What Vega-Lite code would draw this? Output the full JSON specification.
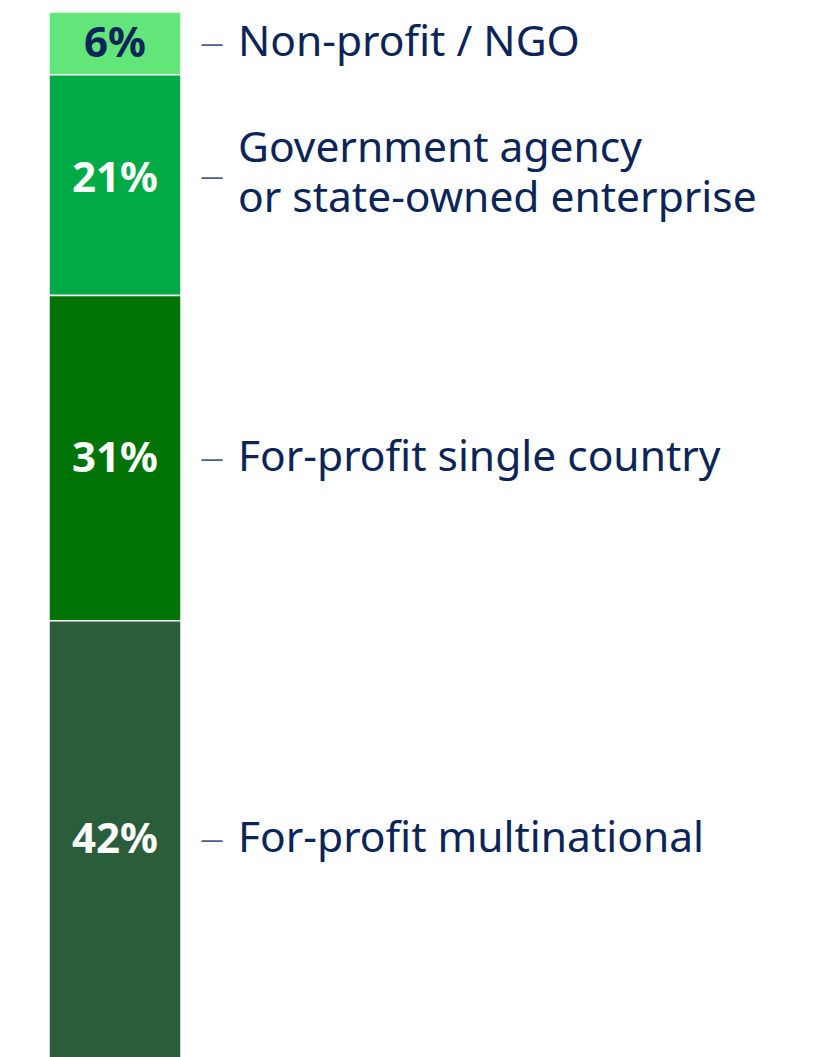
{
  "$schema": "https://vega.github.io/schema/vega-lite/v6.json",
  "width": 230,
  "height": 1046,
  "autosize": "none",
  "padding": {"left": 0, "top": 12, "right": 591, "bottom": 0},
  "background": "white",
  "config": {"view": {"stroke": null}},
  "data": {
    "values": [
      {"bar": "All", "category": "Non-profit / NGO", "label": ["Non-profit / NGO"], "share": 6.0, "pct": "6%", "order": 1},
      {"bar": "All", "category": "Government agency or state-owned enterprise", "label": ["Government agency", "or state-owned enterprise"], "share": 21.1, "pct": "21%", "order": 2},
      {"bar": "All", "category": "For-profit single country", "label": ["For-profit single country"], "share": 31.1, "pct": "31%", "order": 3},
      {"bar": "All", "category": "For-profit multinational", "label": ["For-profit multinational"], "share": 41.8, "pct": "42%", "order": 4}
    ]
  },
  "transform": [
    {"stack": "share", "groupby": ["bar"], "sort": [{"field": "order", "order": "descending"}], "as": ["y0", "y1"]},
    {"calculate": "(datum.y0 + datum.y1) / 2", "as": "ymid"}
  ],
  "encoding": {
    "x": {"field": "bar", "type": "nominal", "axis": null, "scale": {"paddingInner": 0, "paddingOuter": 0.3712}}
  },
  "layer": [
    {
      "mark": {"type": "bar", "stroke": "white", "strokeWidth": 1.5},
      "encoding": {
        "y": {"field": "y0", "type": "quantitative", "axis": null, "scale": {"domain": [0, 100], "nice": false}},
        "y2": {"field": "y1"},
        "color": {
          "field": "category",
          "type": "nominal",
          "legend": null,
          "scale": {
            "domain": ["Non-profit / NGO", "Government agency or state-owned enterprise", "For-profit single country", "For-profit multinational"],
            "range": ["#62e67a", "#00aa44", "#007306", "#2a5e3b"]
          }
        }
      }
    },
    {
      "transform": [{"filter": "datum.order !== 2"}],
      "mark": {"type": "text", "font": "Noto Sans", "fontWeight": "bold", "fontSize": 42, "align": "center", "baseline": "middle", "dy": 1},
      "encoding": {
        "y": {"field": "ymid", "type": "quantitative"},
        "text": {"field": "pct"},
        "color": {
          "condition": {"test": "datum.order === 1", "value": "#0b2559"},
          "value": "white"
        }
      }
    },
    {
      "transform": [{"filter": "datum.order === 2"}],
      "mark": {"type": "text", "font": "Noto Sans", "fontWeight": "bold", "fontSize": 42, "align": "center", "baseline": "middle", "dy": -6, "color": "white"},
      "encoding": {
        "y": {"field": "ymid", "type": "quantitative"},
        "text": {"field": "pct"}
      }
    },
    {
      "transform": [{"filter": "datum.order !== 2"}],
      "mark": {"type": "text", "font": "Noto Sans", "fontSize": 23, "align": "center", "baseline": "middle", "dx": 97, "dy": 1, "color": "#4d5f85", "text": "—"},
      "encoding": {
        "y": {"field": "ymid", "type": "quantitative"}
      }
    },
    {
      "transform": [{"filter": "datum.order === 2"}],
      "mark": {"type": "text", "font": "Noto Sans", "fontSize": 23, "align": "center", "baseline": "middle", "dx": 97, "dy": -8, "color": "#4d5f85", "text": "—"},
      "encoding": {
        "y": {"field": "ymid", "type": "quantitative"}
      }
    },
    {
      "transform": [{"filter": "datum.order !== 2"}],
      "mark": {"type": "text", "font": "Noto Sans", "fontSize": 42.5, "align": "left", "baseline": "middle", "dx": 123, "dy": 0, "color": "#0b2559", "lineHeight": 50},
      "encoding": {
        "y": {"field": "ymid", "type": "quantitative"},
        "text": {"field": "label"}
      }
    },
    {
      "transform": [{"filter": "datum.order === 2"}],
      "mark": {"type": "text", "font": "Noto Sans", "fontSize": 42.5, "align": "left", "baseline": "middle", "dx": 123, "dy": -36, "color": "#0b2559", "lineHeight": 50},
      "encoding": {
        "y": {"field": "ymid", "type": "quantitative"},
        "text": {"field": "label"}
      }
    }
  ]
}
